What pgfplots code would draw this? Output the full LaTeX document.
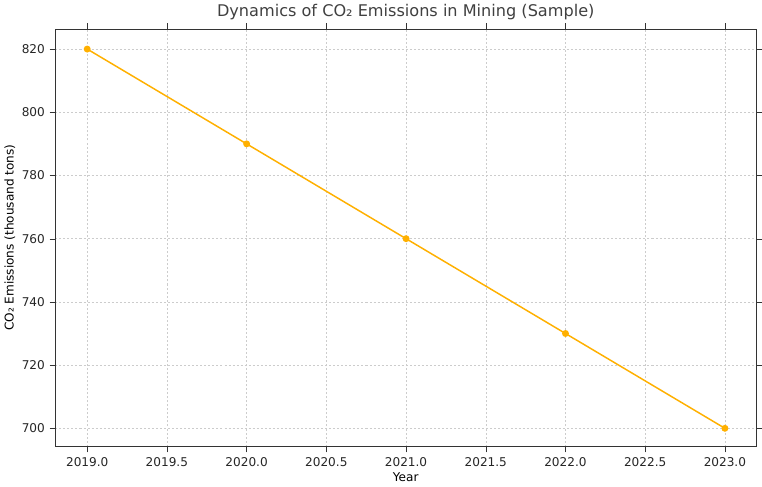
\documentclass[border=0pt]{standalone}
\usepackage{pgfplots}
\pgfplotsset{compat=1.18}
\usepackage{fontspec}
\setmainfont{DejaVu Sans}
\definecolor{lc}{HTML}{FFB000}
\begin{document}
\begin{tikzpicture}
\begin{axis}[
  scale only axis, width=520bp, height=310bp,
  xmin=2018.8, xmax=2023.196, ymin=694.2, ymax=826.4,
  xtick={2019,2019.5,...,2023}, ytick={700,720,...,820},
  xticklabel style={/pgf/number format/.cd,fixed,fixed zerofill,precision=1,1000 sep={}},
  yticklabel style={/pgf/number format/.cd,fixed,1000 sep={}},
  /pgf/number format/assume math mode=true,
  tick label style={font=\small, color=black!85},
  grid=major, grid style={dash pattern=on 1.5pt off 1.5pt, gray!40},
  axis line style={black!80},
  tick align=outside, tick style={black!80},
  xlabel={Year}, ylabel={CO₂ Emissions (thousand tons)},
  label style={font=\small},
  xlabel style={yshift=2pt}, ylabel style={yshift=-2pt},
  title={Dynamics of CO₂ Emissions in Mining (Sample)},
  title style={font=\large, color=black!75, yshift=-3pt},
]
\addplot[lc, line width=1.1pt, mark=*, mark size=2pt, mark options={fill=lc}] coordinates {
(2019,820) (2020,790) (2021,760) (2022,730) (2023,700)};
\end{axis}
\end{tikzpicture}
\end{document}
